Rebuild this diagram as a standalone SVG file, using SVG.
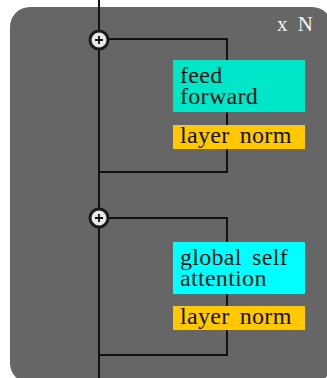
<svg xmlns="http://www.w3.org/2000/svg" width="327" height="378" viewBox="0 0 327 378">
  <style>
    .wire { fill: none; stroke: #111; stroke-width: 2; }
    .label { font-family: "Liberation Serif", "Times New Roman", serif; font-size: 24px; fill: #111; letter-spacing: 0.3px; word-spacing: 4px; }
    .sum circle { fill: #e8e8e8; stroke: #1a1a1a; stroke-width: 3; }
    .sum path { stroke: #111; stroke-width: 1.8; }
    .norm { fill: #ffc800; }
  </style>
  <!-- repeated block background -->
  <rect x="10" y="7" width="322" height="376" rx="20" fill="#666666"/>
  <text x="277" y="31" font-family="Liberation Serif, Times New Roman, serif" font-size="21" fill="#f2f2f2" word-spacing="5">x N</text>

  <g id="connectors">
    <!-- residual trunk -->
    <line class="wire" x1="99" y1="0" x2="99" y2="378"/>
    <!-- feed-forward branch -->
    <polyline class="wire" points="99,39 227,39 227,60"/>
    <line class="wire" x1="227" y1="112" x2="227" y2="125"/>
    <polyline class="wire" points="227,149 227,172 99,172"/>
    <!-- attention branch -->
    <polyline class="wire" points="99,218 227,218 227,242"/>
    <line class="wire" x1="227" y1="294" x2="227" y2="306"/>
    <polyline class="wire" points="227,330 227,355 99,355"/>
  </g>

  <g id="add1" class="sum">
    <circle cx="99" cy="40" r="9"/>
    <path d="M95 40 H103 M99 36 V44"/>
  </g>
  <g id="add2" class="sum">
    <circle cx="99" cy="218" r="9"/>
    <path d="M95 218 H103 M99 214 V222"/>
  </g>

  <g id="feed-forward">
    <rect x="173" y="60" width="132" height="52" fill="#00e6c8"/>
    <text class="label" x="180" y="83">feed<tspan x="180" y="104">forward</tspan></text>
  </g>
  <g id="layer-norm-1">
    <rect class="norm" x="173" y="125" width="132" height="24"/>
    <text class="label" x="180" y="143">layer norm</text>
  </g>

  <g id="global-self-attention">
    <rect x="173" y="242" width="132" height="52" fill="#00ffff"/>
    <text class="label" x="180" y="265">global self<tspan x="180" y="286">attention</tspan></text>
  </g>
  <g id="layer-norm-2">
    <rect class="norm" x="173" y="306" width="132" height="24"/>
    <text class="label" x="180" y="324">layer norm</text>
  </g>
</svg>
